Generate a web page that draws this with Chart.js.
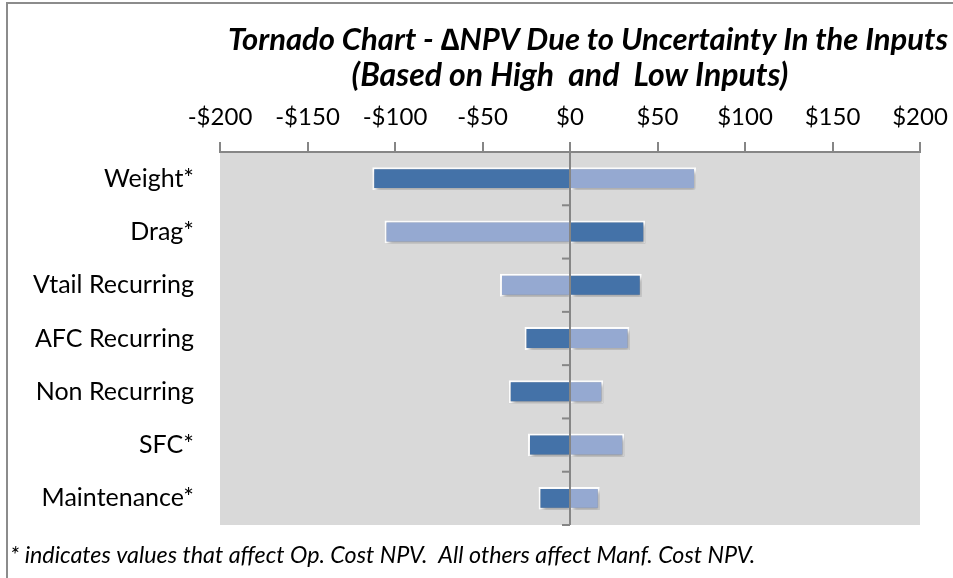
<!DOCTYPE html>
<html>
<head>
<meta charset="utf-8">
<script src="https://cdn.jsdelivr.net/npm/chart.js@4.4.1/dist/chart.umd.min.js"></script>
<style>
  html, body { margin: 0; padding: 0; background: #fff; }
  #wrap { width: 953px; height: 578px; position: relative; }
</style>
</head>
<body>
<div id="wrap"><canvas id="tornado"></canvas></div>
<script>
// Inputs and NPV swings ($) for the low / high cases
const inputs = ['Weight*', 'Drag*', 'Vtail Recurring', 'AFC Recurring', 'Non Recurring', 'SFC*', 'Maintenance*'];
const darkSwing  = [-113, 43, 41, -26, -35, -24, -18];
const lightSwing = [72, -106, -40, 34, 19, 31, 17];
const axisTicks = [-200, -150, -100, -50, 0, 50, 100, 150, 200];

const FONT = "Lato, 'Liberation Sans', sans-serif";
const GRAY = '#868686';

function money(v) {
  return (v < 0 ? '-$' : '$') + Math.abs(v);
}

// Gray plot background + outer frame
const backdrop = {
  id: 'backdrop',
  beforeDraw(chart) {
    const { ctx, chartArea: a } = chart;
    ctx.save();
    ctx.fillStyle = '#fff';
    ctx.fillRect(0, 0, chart.width, chart.height);
    ctx.fillStyle = '#d9d9d9';
    ctx.fillRect(a.left, a.top, a.right - a.left, a.bottom - a.top);
    ctx.strokeStyle = '#8c8c8c';
    ctx.lineWidth = 2;
    ctx.beginPath();
    ctx.moveTo(7, chart.height);
    ctx.lineTo(7, 3);
    ctx.lineTo(chart.width, 3);
    ctx.stroke();
    ctx.restore();
  }
};

// soft drop shadow under the bars
const barShadow = {
  id: 'barShadow',
  beforeDatasetsDraw(chart) {
    const ctx = chart.ctx;
    ctx.save();
    ctx.shadowColor = 'rgba(0,0,0,0.35)';
    ctx.shadowBlur = 4;
    ctx.shadowOffsetX = 2;
    ctx.shadowOffsetY = 3;
  },
  afterDatasetsDraw(chart) {
    chart.ctx.restore();
  }
};

// vertical axis through $0 with ticks between categories
const zeroAxis = {
  id: 'zeroAxis',
  afterDatasetsDraw(chart) {
    const { ctx, scales: { x, y }, chartArea: a } = chart;
    const x0 = x.getPixelForValue(0);
    ctx.save();
    ctx.strokeStyle = GRAY;
    ctx.lineWidth = 2;
    ctx.beginPath();
    ctx.moveTo(x0, a.top - 10);
    ctx.lineTo(x0, a.bottom);
    ctx.stroke();
    const n = inputs.length;
    for (let i = 0; i < n; i++) {
      let yy = i < n - 1
        ? (y.getPixelForTick(i) + y.getPixelForTick(i + 1)) / 2
        : a.bottom;
      ctx.beginPath();
      ctx.moveTo(x0 - 8, yy);
      ctx.lineTo(x0, yy);
      ctx.stroke();
    }
    ctx.restore();
  }
};

// title lines and footnote
const captions = {
  id: 'captions',
  afterDraw(chart) {
    const { ctx, chartArea: a } = chart;
    const cx = (a.left + a.right) / 2;
    ctx.save();
    ctx.fillStyle = '#000';
    ctx.textAlign = 'center';
    ctx.textBaseline = 'middle';
    ctx.font = 'italic bold 31px ' + FONT;
    ctx.fillText('Tornado Chart - \u2206NPV Due to Uncertainty In the Inputs', cx + 18, 40);
    ctx.font = 'italic bold 32px ' + FONT;
    ctx.fillText('(Based on High  and  Low Inputs)', cx, 76);
    ctx.textAlign = 'left';
    ctx.font = 'italic 23.3px ' + FONT;
    ctx.fillText('* indicates values that affect Op. Cost NPV.  All others affect Manf. Cost NPV.', 10, 555);
    ctx.restore();
  }
};

new Chart(document.getElementById('tornado').getContext('2d'), {
  type: 'bar',
  data: {
    labels: inputs,
    datasets: [
      {
        label: 'Low',
        data: darkSwing,
        backgroundColor: '#4472a8',
        borderColor: '#ffffff',
        borderWidth: 2,
        borderSkipped: 'start',
        barPercentage: 0.43,
        categoryPercentage: 1
      },
      {
        label: 'High',
        data: lightSwing,
        backgroundColor: '#95a9d1',
        borderColor: '#ffffff',
        borderWidth: 2,
        borderSkipped: 'start',
        barPercentage: 0.43,
        categoryPercentage: 1
      }
    ]
  },
  options: {
    indexAxis: 'y',
    responsive: true,
    maintainAspectRatio: false,
    animation: false,
    layout: { padding: { top: 102, right: 33, bottom: 53, left: 0 } },
    plugins: {
      legend: { display: false },
      tooltip: { enabled: false }
    },
    scales: {
      x: {
        position: 'top',
        min: axisTicks[0],
        max: axisTicks[axisTicks.length - 1],
        afterBuildTicks(scale) {
          scale.ticks = axisTicks.map(v => ({ value: v }));
        },
        afterFit(scale) {
          scale.height = 50;
          scale.paddingLeft = 0;
          scale.paddingRight = 0;
        },
        ticks: {
          color: '#000',
          font: { family: FONT, size: 24 },
          padding: 10,
          maxRotation: 0,
          minRotation: 0,
          callback: v => money(v)
        },
        grid: { drawOnChartArea: false, tickLength: 10, color: GRAY, lineWidth: 2 },
        border: { color: GRAY, width: 2 }
      },
      y: {
        stacked: true,
        afterFit(scale) { scale.width = 220; },
        ticks: {
          color: '#000',
          font: { family: FONT, size: 25 },
          padding: 18
        },
        grid: { display: false },
        border: { display: false }
      }
    }
  },
  plugins: [backdrop, barShadow, zeroAxis, captions]
});
</script>
</body>
</html>
